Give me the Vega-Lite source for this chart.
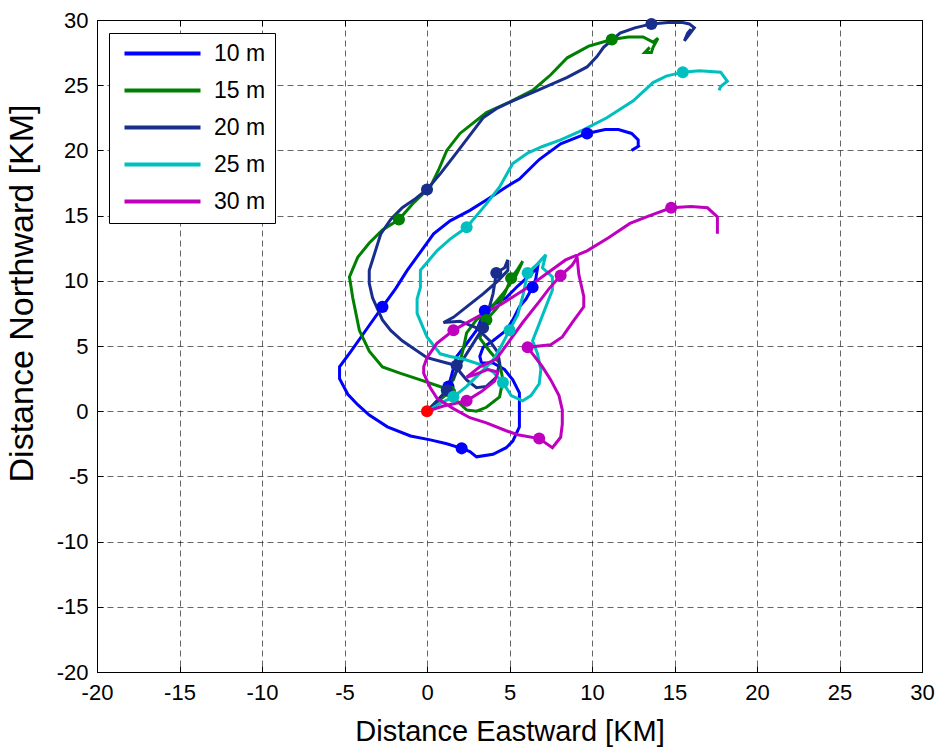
{
"$schema":"https://vega.github.io/schema/vega-lite/v6.json",
"width":825,"height":652,
"autosize":{"type":"none"},
"padding":{"left":97,"top":20,"right":18,"bottom":75},
"background":"white",
"config":{"view":{"stroke":"black","strokeWidth":1},"font":"Liberation Sans"},
"datasets":{
"paths":[
{"s":"10 m","i":0,"x":0,"y":0},{"s":"10 m","i":1,"x":0.6,"y":0.7},{"s":"10 m","i":2,"x":1.0,"y":1.3},{"s":"10 m","i":3,"x":1.3,"y":1.9,"fix":1},{"s":"10 m","i":4,"x":1.5,"y":2.8},{"s":"10 m","i":5,"x":1.8,"y":4.2},{"s":"10 m","i":6,"x":2.3,"y":5.0},{"s":"10 m","i":7,"x":3.0,"y":6.2},{"s":"10 m","i":8,"x":3.5,"y":7.7,"fix":1},{"s":"10 m","i":9,"x":4.2,"y":8.3},{"s":"10 m","i":10,"x":4.8,"y":8.7},{"s":"10 m","i":11,"x":5.5,"y":9.6},{"s":"10 m","i":12,"x":6.2,"y":10.4},{"s":"10 m","i":13,"x":6.7,"y":11.0},{"s":"10 m","i":14,"x":6.6,"y":10.2},{"s":"10 m","i":15,"x":6.4,"y":9.5,"fix":1},{"s":"10 m","i":16,"x":6.0,"y":8.6},{"s":"10 m","i":17,"x":5.6,"y":8.0},{"s":"10 m","i":18,"x":5.2,"y":7.0},{"s":"10 m","i":19,"x":4.8,"y":6.2},{"s":"10 m","i":20,"x":4.0,"y":5.4},{"s":"10 m","i":21,"x":3.4,"y":4.9},{"s":"10 m","i":22,"x":3.2,"y":4.2},{"s":"10 m","i":23,"x":3.3,"y":3.7},{"s":"10 m","i":24,"x":4.0,"y":3.7},{"s":"10 m","i":25,"x":4.7,"y":3.2},{"s":"10 m","i":26,"x":5.2,"y":2.4},{"s":"10 m","i":27,"x":5.6,"y":1.4},{"s":"10 m","i":28,"x":5.6,"y":0.3},{"s":"10 m","i":29,"x":5.6,"y":-1.2},{"s":"10 m","i":30,"x":5.2,"y":-2.3},{"s":"10 m","i":31,"x":4.8,"y":-2.8},{"s":"10 m","i":32,"x":4.0,"y":-3.3},{"s":"10 m","i":33,"x":3.0,"y":-3.5},{"s":"10 m","i":34,"x":2.6,"y":-3.1},{"s":"10 m","i":35,"x":2.1,"y":-2.85,"fix":1},{"s":"10 m","i":36,"x":1.2,"y":-2.5},{"s":"10 m","i":37,"x":0.2,"y":-2.2},{"s":"10 m","i":38,"x":-1.0,"y":-1.9},{"s":"10 m","i":39,"x":-2.4,"y":-1.2},{"s":"10 m","i":40,"x":-3.5,"y":-0.3},{"s":"10 m","i":41,"x":-4.2,"y":0.5},{"s":"10 m","i":42,"x":-4.8,"y":1.3},{"s":"10 m","i":43,"x":-5.3,"y":2.5},{"s":"10 m","i":44,"x":-5.3,"y":3.4},{"s":"10 m","i":45,"x":-4.6,"y":4.6},{"s":"10 m","i":46,"x":-3.6,"y":6.4},{"s":"10 m","i":47,"x":-2.7,"y":8.0,"fix":1},{"s":"10 m","i":48,"x":-1.9,"y":9.4},{"s":"10 m","i":49,"x":-1.2,"y":10.8},{"s":"10 m","i":50,"x":-0.4,"y":12.2},{"s":"10 m","i":51,"x":0.4,"y":13.6},{"s":"10 m","i":52,"x":1.4,"y":14.6},{"s":"10 m","i":53,"x":2.6,"y":15.4},{"s":"10 m","i":54,"x":3.6,"y":16.2},{"s":"10 m","i":55,"x":4.8,"y":17.2},{"s":"10 m","i":56,"x":5.6,"y":17.8},{"s":"10 m","i":57,"x":6.8,"y":19.3},{"s":"10 m","i":58,"x":8.1,"y":20.5},{"s":"10 m","i":59,"x":9.7,"y":21.3,"fix":1},{"s":"10 m","i":60,"x":10.8,"y":21.6},{"s":"10 m","i":61,"x":11.6,"y":21.6},{"s":"10 m","i":62,"x":12.4,"y":21.3},{"s":"10 m","i":63,"x":12.8,"y":20.8},{"s":"10 m","i":64,"x":12.8,"y":20.3},{"s":"10 m","i":65,"x":12.4,"y":20.0},{"s":"10 m","i":66,"x":12.9,"y":20.4},
{"s":"15 m","i":0,"x":0,"y":0},{"s":"15 m","i":1,"x":0.7,"y":0.8},{"s":"15 m","i":2,"x":1.4,"y":1.5,"fix":1},{"s":"15 m","i":3,"x":1.8,"y":0.8},{"s":"15 m","i":4,"x":2.4,"y":0.1},{"s":"15 m","i":5,"x":3.0,"y":0.0},{"s":"15 m","i":6,"x":3.6,"y":0.3},{"s":"15 m","i":7,"x":4.4,"y":1.1},{"s":"15 m","i":8,"x":4.6,"y":2.4},{"s":"15 m","i":9,"x":4.4,"y":3.7},{"s":"15 m","i":10,"x":3.8,"y":4.6},{"s":"15 m","i":11,"x":3.2,"y":5.6},{"s":"15 m","i":12,"x":3.6,"y":7.0,"fix":1},{"s":"15 m","i":13,"x":4.3,"y":8.0},{"s":"15 m","i":14,"x":4.7,"y":9.0},{"s":"15 m","i":15,"x":5.1,"y":10.2,"fix":1},{"s":"15 m","i":16,"x":5.5,"y":10.9},{"s":"15 m","i":17,"x":5.8,"y":11.5},{"s":"15 m","i":18,"x":5.4,"y":10.4},{"s":"15 m","i":19,"x":4.6,"y":9.0},{"s":"15 m","i":20,"x":3.8,"y":7.8},{"s":"15 m","i":21,"x":3.0,"y":7.0},{"s":"15 m","i":22,"x":2.4,"y":6.0},{"s":"15 m","i":23,"x":2.2,"y":4.8},{"s":"15 m","i":24,"x":2.0,"y":3.8},{"s":"15 m","i":25,"x":1.6,"y":2.4},{"s":"15 m","i":26,"x":1.0,"y":1.8},{"s":"15 m","i":27,"x":-0.4,"y":2.4},{"s":"15 m","i":28,"x":-1.6,"y":2.9},{"s":"15 m","i":29,"x":-2.7,"y":3.4},{"s":"15 m","i":30,"x":-3.5,"y":4.6},{"s":"15 m","i":31,"x":-4.1,"y":6.2},{"s":"15 m","i":32,"x":-4.5,"y":8.7},{"s":"15 m","i":33,"x":-4.7,"y":10.3},{"s":"15 m","i":34,"x":-4.2,"y":11.8},{"s":"15 m","i":35,"x":-3.5,"y":12.9},{"s":"15 m","i":36,"x":-2.7,"y":13.9},{"s":"15 m","i":37,"x":-1.7,"y":14.7,"fix":1},{"s":"15 m","i":38,"x":-0.8,"y":16.0},{"s":"15 m","i":39,"x":0.2,"y":17.2},{"s":"15 m","i":40,"x":0.7,"y":18.5},{"s":"15 m","i":41,"x":1.2,"y":20.0},{"s":"15 m","i":42,"x":2.0,"y":21.3},{"s":"15 m","i":43,"x":3.6,"y":22.9},{"s":"15 m","i":44,"x":5.0,"y":23.7},{"s":"15 m","i":45,"x":6.4,"y":24.6},{"s":"15 m","i":46,"x":7.5,"y":25.8},{"s":"15 m","i":47,"x":8.5,"y":27.1},{"s":"15 m","i":48,"x":9.8,"y":28.0},{"s":"15 m","i":49,"x":11.2,"y":28.5,"fix":1},{"s":"15 m","i":50,"x":12.2,"y":28.7},{"s":"15 m","i":51,"x":13.1,"y":28.7},{"s":"15 m","i":52,"x":13.7,"y":28.3},{"s":"15 m","i":53,"x":14.0,"y":28.6},{"s":"15 m","i":54,"x":13.7,"y":27.9},{"s":"15 m","i":55,"x":13.6,"y":27.5},{"s":"15 m","i":56,"x":13.2,"y":27.5},{"s":"15 m","i":57,"x":13.5,"y":27.9},
{"s":"20 m","i":0,"x":0,"y":0},{"s":"20 m","i":1,"x":0.6,"y":0.8},{"s":"20 m","i":2,"x":1.2,"y":1.6,"fix":1},{"s":"20 m","i":3,"x":1.6,"y":2.6},{"s":"20 m","i":4,"x":2.0,"y":3.6},{"s":"20 m","i":5,"x":2.6,"y":4.8},{"s":"20 m","i":6,"x":3.0,"y":5.6},{"s":"20 m","i":7,"x":3.4,"y":6.4,"fix":1},{"s":"20 m","i":8,"x":3.7,"y":7.6},{"s":"20 m","i":9,"x":4.0,"y":9.0},{"s":"20 m","i":10,"x":4.2,"y":10.6,"fix":1},{"s":"20 m","i":11,"x":4.7,"y":11.0},{"s":"20 m","i":12,"x":4.9,"y":11.6},{"s":"20 m","i":13,"x":4.9,"y":10.8},{"s":"20 m","i":14,"x":4.3,"y":10.0},{"s":"20 m","i":15,"x":3.4,"y":9.0},{"s":"20 m","i":16,"x":2.4,"y":8.0},{"s":"20 m","i":17,"x":1.6,"y":7.2},{"s":"20 m","i":18,"x":1.0,"y":6.8},{"s":"20 m","i":19,"x":2.0,"y":6.9},{"s":"20 m","i":20,"x":3.0,"y":6.4},{"s":"20 m","i":21,"x":3.8,"y":5.4},{"s":"20 m","i":22,"x":4.3,"y":4.5},{"s":"20 m","i":23,"x":4.4,"y":3.7},{"s":"20 m","i":24,"x":4.2,"y":2.6},{"s":"20 m","i":25,"x":3.6,"y":1.9},{"s":"20 m","i":26,"x":3.0,"y":1.8},{"s":"20 m","i":27,"x":2.4,"y":2.4},{"s":"20 m","i":28,"x":2.0,"y":3.0},{"s":"20 m","i":29,"x":1.8,"y":3.5,"fix":1},{"s":"20 m","i":30,"x":1.2,"y":3.7},{"s":"20 m","i":31,"x":0.0,"y":4.1},{"s":"20 m","i":32,"x":-1.5,"y":5.4},{"s":"20 m","i":33,"x":-2.2,"y":6.2},{"s":"20 m","i":34,"x":-2.7,"y":7.0},{"s":"20 m","i":35,"x":-3.3,"y":8.7},{"s":"20 m","i":36,"x":-3.5,"y":9.8},{"s":"20 m","i":37,"x":-3.5,"y":10.8},{"s":"20 m","i":38,"x":-3.3,"y":11.6},{"s":"20 m","i":39,"x":-2.8,"y":13.6},{"s":"20 m","i":40,"x":-2.2,"y":14.7},{"s":"20 m","i":41,"x":-1.5,"y":15.6},{"s":"20 m","i":42,"x":-0.7,"y":16.3},{"s":"20 m","i":43,"x":0.0,"y":17.0,"fix":1},{"s":"20 m","i":44,"x":0.8,"y":18.2},{"s":"20 m","i":45,"x":1.6,"y":19.5},{"s":"20 m","i":46,"x":2.5,"y":21.0},{"s":"20 m","i":47,"x":3.4,"y":22.5},{"s":"20 m","i":48,"x":4.2,"y":23.2},{"s":"20 m","i":49,"x":5.2,"y":23.8},{"s":"20 m","i":50,"x":6.7,"y":24.6},{"s":"20 m","i":51,"x":7.6,"y":25.1},{"s":"20 m","i":52,"x":8.5,"y":25.6},{"s":"20 m","i":53,"x":9.7,"y":26.4},{"s":"20 m","i":54,"x":10.3,"y":27.2},{"s":"20 m","i":55,"x":10.7,"y":27.9},{"s":"20 m","i":56,"x":11.7,"y":29.0},{"s":"20 m","i":57,"x":12.6,"y":29.4},{"s":"20 m","i":58,"x":13.6,"y":29.7,"fix":1},{"s":"20 m","i":59,"x":14.6,"y":29.8},{"s":"20 m","i":60,"x":15.5,"y":29.8},{"s":"20 m","i":61,"x":15.9,"y":29.7},{"s":"20 m","i":62,"x":16.2,"y":29.4},{"s":"20 m","i":63,"x":15.9,"y":28.9},{"s":"20 m","i":64,"x":15.6,"y":28.4},{"s":"20 m","i":65,"x":15.8,"y":29.0},{"s":"20 m","i":66,"x":16.0,"y":29.3},
{"s":"25 m","i":0,"x":0,"y":0},{"s":"25 m","i":1,"x":0.8,"y":0.6},{"s":"25 m","i":2,"x":1.6,"y":1.1,"fix":1},{"s":"25 m","i":3,"x":2.4,"y":1.9},{"s":"25 m","i":4,"x":3.2,"y":2.9},{"s":"25 m","i":5,"x":4.0,"y":3.9},{"s":"25 m","i":6,"x":4.5,"y":5.0},{"s":"25 m","i":7,"x":5.0,"y":6.2,"fix":1},{"s":"25 m","i":8,"x":5.5,"y":7.4},{"s":"25 m","i":9,"x":5.8,"y":8.8},{"s":"25 m","i":10,"x":6.1,"y":10.6,"fix":1},{"s":"25 m","i":11,"x":6.7,"y":11.3},{"s":"25 m","i":12,"x":7.2,"y":12.0},{"s":"25 m","i":13,"x":7.0,"y":11.0},{"s":"25 m","i":14,"x":7.6,"y":10.3},{"s":"25 m","i":15,"x":7.6,"y":9.3},{"s":"25 m","i":16,"x":7.2,"y":8.0},{"s":"25 m","i":17,"x":6.8,"y":6.7},{"s":"25 m","i":18,"x":6.4,"y":5.4},{"s":"25 m","i":19,"x":6.7,"y":4.4},{"s":"25 m","i":20,"x":6.9,"y":3.2},{"s":"25 m","i":21,"x":6.8,"y":2.1},{"s":"25 m","i":22,"x":6.3,"y":1.2},{"s":"25 m","i":23,"x":5.8,"y":0.8},{"s":"25 m","i":24,"x":5.1,"y":1.2},{"s":"25 m","i":25,"x":4.6,"y":2.2,"fix":1},{"s":"25 m","i":26,"x":4.0,"y":3.0},{"s":"25 m","i":27,"x":3.2,"y":3.6},{"s":"25 m","i":28,"x":2.2,"y":4.0},{"s":"25 m","i":29,"x":1.4,"y":4.2},{"s":"25 m","i":30,"x":0.8,"y":4.4},{"s":"25 m","i":31,"x":0.0,"y":5.7},{"s":"25 m","i":32,"x":-0.6,"y":7.5},{"s":"25 m","i":33,"x":-0.6,"y":8.6},{"s":"25 m","i":34,"x":-0.4,"y":9.5},{"s":"25 m","i":35,"x":-0.4,"y":10.8},{"s":"25 m","i":36,"x":0.6,"y":12.3},{"s":"25 m","i":37,"x":1.4,"y":13.2},{"s":"25 m","i":38,"x":2.4,"y":14.1,"fix":1},{"s":"25 m","i":39,"x":3.0,"y":15.0},{"s":"25 m","i":40,"x":3.6,"y":15.9},{"s":"25 m","i":41,"x":4.4,"y":17.2},{"s":"25 m","i":42,"x":5.2,"y":19.0},{"s":"25 m","i":43,"x":6.1,"y":19.8},{"s":"25 m","i":44,"x":7.0,"y":20.3},{"s":"25 m","i":45,"x":8.1,"y":20.8},{"s":"25 m","i":46,"x":9.5,"y":21.6},{"s":"25 m","i":47,"x":10.9,"y":22.5},{"s":"25 m","i":48,"x":12.5,"y":23.8},{"s":"25 m","i":49,"x":13.7,"y":25.2},{"s":"25 m","i":50,"x":14.5,"y":25.7},{"s":"25 m","i":51,"x":15.5,"y":26.0,"fix":1},{"s":"25 m","i":52,"x":16.5,"y":26.1},{"s":"25 m","i":53,"x":17.8,"y":26.0},{"s":"25 m","i":54,"x":18.2,"y":25.3},{"s":"25 m","i":55,"x":17.8,"y":24.9},{"s":"25 m","i":56,"x":17.7,"y":24.6},
{"s":"30 m","i":0,"x":0,"y":0},{"s":"30 m","i":1,"x":1.0,"y":0.4},{"s":"30 m","i":2,"x":2.4,"y":0.8,"fix":1},{"s":"30 m","i":3,"x":3.3,"y":1.5},{"s":"30 m","i":4,"x":4.1,"y":2.3},{"s":"30 m","i":5,"x":4.3,"y":3.0},{"s":"30 m","i":6,"x":3.7,"y":3.2},{"s":"30 m","i":7,"x":2.9,"y":2.8},{"s":"30 m","i":8,"x":2.4,"y":2.6},{"s":"30 m","i":9,"x":3.2,"y":3.4},{"s":"30 m","i":10,"x":4.2,"y":4.0},{"s":"30 m","i":11,"x":5.0,"y":5.4},{"s":"30 m","i":12,"x":5.8,"y":6.8},{"s":"30 m","i":13,"x":6.8,"y":8.4},{"s":"30 m","i":14,"x":7.4,"y":9.4},{"s":"30 m","i":15,"x":8.1,"y":10.4,"fix":1},{"s":"30 m","i":16,"x":8.8,"y":11.2},{"s":"30 m","i":17,"x":9.1,"y":11.8},{"s":"30 m","i":18,"x":9.2,"y":10.5},{"s":"30 m","i":19,"x":9.5,"y":8.8},{"s":"30 m","i":20,"x":9.5,"y":8.0},{"s":"30 m","i":21,"x":8.8,"y":6.8},{"s":"30 m","i":22,"x":8.2,"y":5.7},{"s":"30 m","i":23,"x":7.5,"y":5.1},{"s":"30 m","i":24,"x":6.1,"y":4.9,"fix":1},{"s":"30 m","i":25,"x":6.4,"y":4.4},{"s":"30 m","i":26,"x":7.0,"y":3.4},{"s":"30 m","i":27,"x":7.5,"y":2.4},{"s":"30 m","i":28,"x":8.0,"y":1.2},{"s":"30 m","i":29,"x":8.2,"y":0.1},{"s":"30 m","i":30,"x":8.2,"y":-1.0},{"s":"30 m","i":31,"x":8.1,"y":-2.0},{"s":"30 m","i":32,"x":7.6,"y":-2.8},{"s":"30 m","i":33,"x":6.8,"y":-2.1,"fix":1},{"s":"30 m","i":34,"x":5.5,"y":-1.8},{"s":"30 m","i":35,"x":4.8,"y":-1.5},{"s":"30 m","i":36,"x":3.6,"y":-0.9},{"s":"30 m","i":37,"x":2.6,"y":-0.5},{"s":"30 m","i":38,"x":1.6,"y":0.2},{"s":"30 m","i":39,"x":0.6,"y":1.0},{"s":"30 m","i":40,"x":0.2,"y":1.8},{"s":"30 m","i":41,"x":-0.2,"y":2.9},{"s":"30 m","i":42,"x":-0.2,"y":3.4},{"s":"30 m","i":43,"x":0.0,"y":4.1},{"s":"30 m","i":44,"x":0.6,"y":5.2},{"s":"30 m","i":45,"x":1.6,"y":6.2,"fix":1},{"s":"30 m","i":46,"x":3.0,"y":7.2},{"s":"30 m","i":47,"x":4.5,"y":8.2},{"s":"30 m","i":48,"x":6.0,"y":9.4},{"s":"30 m","i":49,"x":7.3,"y":10.6},{"s":"30 m","i":50,"x":8.4,"y":11.6},{"s":"30 m","i":51,"x":9.7,"y":12.3},{"s":"30 m","i":52,"x":11.0,"y":13.3},{"s":"30 m","i":53,"x":12.3,"y":14.4},{"s":"30 m","i":54,"x":13.5,"y":15.0},{"s":"30 m","i":55,"x":14.8,"y":15.6,"fix":1},{"s":"30 m","i":56,"x":16.0,"y":15.7},{"s":"30 m","i":57,"x":17.0,"y":15.6},{"s":"30 m","i":58,"x":17.6,"y":14.9},{"s":"30 m","i":59,"x":17.6,"y":14.2},{"s":"30 m","i":60,"x":17.6,"y":13.6}
],
"origin":[{"x":0,"y":0}]
},
"layer":[
{
"data":{"name":"paths"},
"mark":{"type":"line","strokeWidth":3,"interpolate":"linear"},
"encoding":{
"x":{"field":"x","type":"quantitative","scale":{"domain":[-20,30],"nice":false,"zero":false},
"axis":{"orient":"bottom","values":[-20,-15,-10,-5,0,5,10,15,20,25,30],"labelExpr":"toString(datum.value)","title":"Distance Eastward [KM]","titleFontSize":29,"titleFont":"Liberation Sans","titleFontWeight":"normal","titleColor":"black","titleY":68,"titleBaseline":"alphabetic","labelFontSize":22,"labelFont":"Liberation Sans","labelColor":"black","labelFlush":false,"labelOverlap":false,"labelPadding":16,"tickSize":-6,"tickColor":"black","domainColor":"black","grid":true,"gridColor":"#000","gridOpacity":0.6,"gridDash":[6,4],"gridWidth":1}},
"y":{"field":"y","type":"quantitative","scale":{"domain":[-20,30],"nice":false,"zero":false},
"axis":{"orient":"left","values":[-20,-15,-10,-5,0,5,10,15,20,25,30],"labelExpr":"toString(datum.value)","title":"Distance Northward [KM]","titleFontSize":34,"titleFont":"Liberation Sans","titleFontWeight":"normal","titleColor":"black","titleX":-65,"titleY":273,"titleAngle":-90,"titleAlign":"center","titleBaseline":"alphabetic","labelFontSize":22,"labelFont":"Liberation Sans","labelColor":"black","labelFlush":false,"labelOverlap":false,"labelPadding":15,"tickSize":-6,"tickColor":"black","domainColor":"black","grid":true,"gridColor":"#000","gridOpacity":0.6,"gridDash":[6,4],"gridWidth":1}},
"color":{"field":"s","type":"nominal","scale":{"domain":["10 m","15 m","20 m","25 m","30 m"],"range":["#0000ff","#008000","#192d8c","#00bfbf","#bf00bf"]},
"legend":{"title":null,"orient":"none","legendX":12,"legendY":13,"symbolType":"M-4,0H4","symbolSize":361,"symbolStrokeWidth":4,"symbolOffset":33,"labelOffset":40,"labelFontSize":23,"labelFont":"Liberation Sans","labelColor":"black","strokeColor":"black","fillColor":"white","padding":9,"rowPadding":13,"labelLimit":200}},
"order":{"field":"i","type":"quantitative"}
}
},
{
"data":{"name":"paths"},
"transform":[{"filter":"datum.fix == 1"}],
"mark":{"type":"circle","size":145,"opacity":1},
"encoding":{
"x":{"field":"x","type":"quantitative","axis":{"orient":"top","labels":false,"title":null,"grid":false,"values":[-20,-15,-10,-5,0,5,10,15,20,25,30],"tickSize":-6,"tickColor":"black","domainColor":"black"}},
"y":{"field":"y","type":"quantitative","axis":{"orient":"right","labels":false,"title":null,"grid":false,"values":[-20,-15,-10,-5,0,5,10,15,20,25,30],"tickSize":-6,"tickColor":"black","domainColor":"black"}},
"color":{"field":"s","type":"nominal","legend":null}
}
},
{
"data":{"name":"origin"},
"mark":{"type":"circle","size":145,"opacity":1,"color":"#ff0000"},
"encoding":{
"x":{"field":"x","type":"quantitative","axis":null},
"y":{"field":"y","type":"quantitative","axis":null}
}
}
],
"resolve":{"axis":{"x":"independent","y":"independent"}}
}
